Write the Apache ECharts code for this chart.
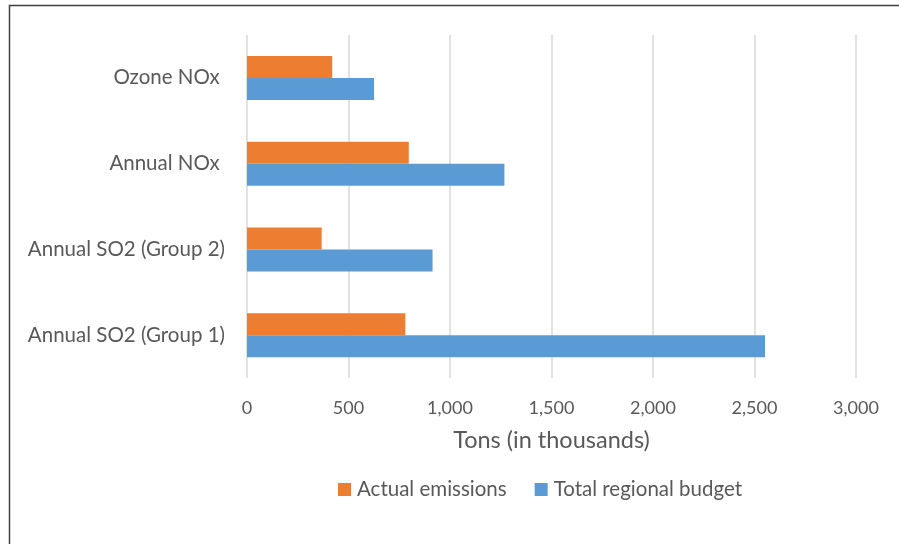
<!DOCTYPE html>
<html>
<head>
<meta charset="utf-8">
<script src="https://cdn.jsdelivr.net/npm/echarts@6/dist/echarts.min.js"></script>
<style>
html,body{margin:0;padding:0;background:#fff;}
#c{width:899px;height:544px;}
</style>
</head>
<body>
<div id="c"></div>
<script>
const categories = ['Annual SO2 (Group 1)', 'Annual SO2 (Group 2)', 'Annual NOx ', 'Ozone NOx '];
const actualEmissions = [780, 368, 797, 420];
const totalRegionalBudget = [2552, 914, 1268, 626];
const seriesNames = ['Actual emissions', 'Total regional budget'];
const xTicks = { min: 0, max: 3000, interval: 500 };

const chart = echarts.init(document.getElementById('c'), null, { renderer: 'canvas' });
const font = 'Lato, "Open Sans", sans-serif';
const textColor = '#595959';
chart.setOption({
  animation: false,
  backgroundColor: '#fff',
  graphic: [{
    type: 'rect', shape: { x: 9.5, y: 5.5, width: 1000, height: 1000 },
    style: { fill: 'none', stroke: '#404040', lineWidth: 1.5 }, silent: true
  }],
  grid: { left: 247, right: 43, top: 35, bottom: 166, containLabel: false },
  legend: {
    data: seriesNames, top: 474, left: 333, itemWidth: 13, itemHeight: 13, itemGap: 28,
    icon: 'rect',
    textStyle: { color: textColor, fontSize: 20.5, fontFamily: font, padding: [0, 0, 0, 1] }
  },
  xAxis: {
    type: 'value', min: xTicks.min, max: xTicks.max, interval: xTicks.interval,
    name: 'Tons (in thousands)', nameLocation: 'middle', nameGap: 50,
    nameTextStyle: { color: textColor, fontSize: 23.5, fontFamily: font },
    axisLine: { show: false }, axisTick: { show: false },
    axisLabel: { color: textColor, fontSize: 18, fontFamily: font, margin: 21,
      formatter: v => v.toLocaleString('en-US') },
    splitLine: { lineStyle: { color: '#D9D9D9', width: 1.5 } }
  },
  yAxis: {
    type: 'category', data: categories,
    axisLine: { show: false }, axisTick: { show: false },
    axisLabel: { color: textColor, fontSize: 20.5, fontFamily: font, margin: 22 }
  },
  series: [
    { name: seriesNames[0], type: 'bar', data: actualEmissions, barWidth: 22, barGap: '0%',
      itemStyle: { color: '#ED7D31' } },
    { name: seriesNames[1], type: 'bar', data: totalRegionalBudget, barWidth: 22, barGap: '0%',
      itemStyle: { color: '#5B9BD5' } }
  ]
});
</script>
</body>
</html>
